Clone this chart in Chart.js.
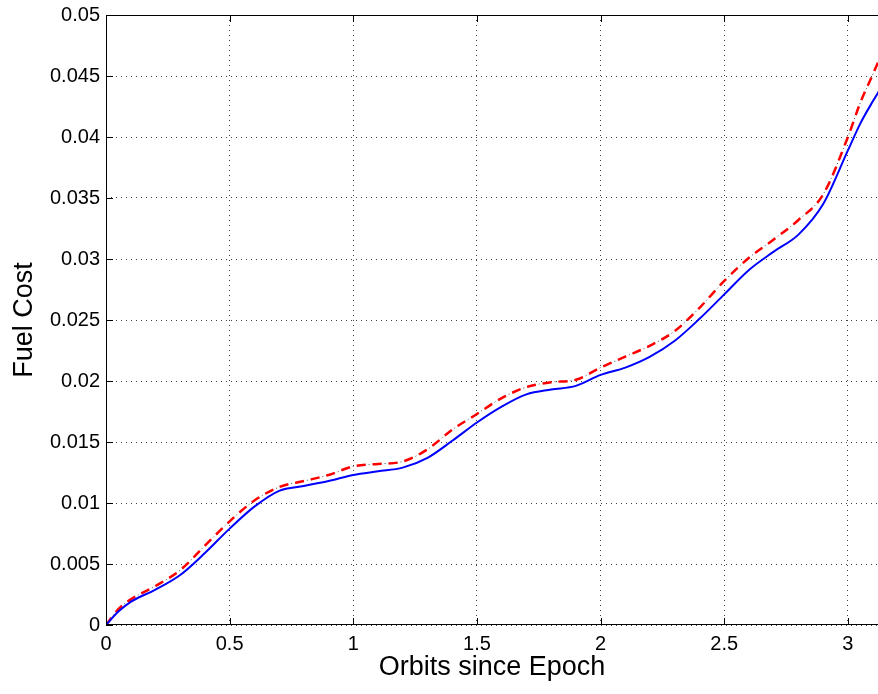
<!DOCTYPE html>
<html>
<head>
<meta charset="utf-8">
<script src="https://cdn.jsdelivr.net/npm/chart.js@4.4.1/dist/chart.umd.min.js"></script>
<style>
  html, body { margin: 0; padding: 0; background: #fff; }
  #wrap { width: 878px; height: 694px; position: relative; }
</style>
</head>
<body>
<div id="wrap"><canvas id="fuel"></canvas></div>
<script>
// orbits since epoch (sample positions)
const orbits = [0, 0.05, 0.1, 0.2, 0.3, 0.4, 0.5, 0.6, 0.7, 0.8, 0.9, 1.0, 1.1, 1.2, 1.3, 1.4, 1.5,
  1.6, 1.7, 1.8, 1.9, 2.0, 2.1, 2.2, 2.3, 2.4, 2.5, 2.6, 2.7, 2.8, 2.9, 3.0, 3.05, 3.1, 3.13];

// blue solid curve
const costBlue = [0, 0.0011, 0.0019, 0.0029, 0.0041, 0.0059, 0.0079, 0.0097, 0.0110, 0.0114, 0.0118,
  0.0123, 0.0126, 0.0129, 0.0137, 0.0151, 0.0166, 0.0179, 0.0189, 0.0193, 0.0196, 0.0205, 0.0211,
  0.0220, 0.0233, 0.0251, 0.0271, 0.0291, 0.0306, 0.0320, 0.0345, 0.0389, 0.0411, 0.0429, 0.0439];

// red dashed / black dash-dot curve (same values)
const costRed = [0, 0.0013, 0.0021, 0.0032, 0.0045, 0.0065, 0.0085, 0.0102, 0.0113, 0.0118, 0.0123,
  0.0130, 0.0132, 0.0134, 0.0144, 0.0160, 0.0173, 0.0186, 0.0195, 0.0199, 0.0201, 0.0211, 0.0220,
  0.0229, 0.0241, 0.0260, 0.0282, 0.0301, 0.0316, 0.0332, 0.0353, 0.0400, 0.0428, 0.0451, 0.0465];

const xTicks = [0, 0.5, 1, 1.5, 2, 2.5, 3];
const yTicks = [0, 0.005, 0.01, 0.015, 0.02, 0.025, 0.03, 0.035, 0.04, 0.045, 0.05];

function toPoints(ys) {
  return orbits.map((x, i) => ({ x: x, y: ys[i] }));
}

// MATLAB style box: top border and inward tick marks
const boxTicks = {
  id: "boxTicks",
  afterDatasetsDraw(chart) {
    const ctx = chart.ctx;
    const area = chart.chartArea;
    const xs = chart.scales.x;
    const ys = chart.scales.y;
    const len = 7;
    ctx.save();
    ctx.strokeStyle = "#000";
    ctx.lineWidth = 1;
    ctx.setLineDash([]);
    ctx.beginPath();
    ctx.moveTo(area.left, area.top + 0.5);
    ctx.lineTo(area.right, area.top + 0.5);
    ctx.moveTo(area.left + 0.5, area.top);
    ctx.lineTo(area.left + 0.5, area.bottom);
    ctx.moveTo(area.left, area.bottom - 0.5);
    ctx.lineTo(area.right, area.bottom - 0.5);
    for (const v of xTicks) {
      const px = Math.round(xs.getPixelForValue(v)) + 0.5;
      ctx.moveTo(px, area.bottom);
      ctx.lineTo(px, area.bottom - len);
      ctx.moveTo(px, area.top);
      ctx.lineTo(px, area.top + len);
    }
    for (const v of yTicks) {
      const py = Math.round(ys.getPixelForValue(v)) + 0.5;
      ctx.moveTo(area.left, py);
      ctx.lineTo(area.left + len, py);
    }
    ctx.stroke();
    ctx.restore();
  },
};

const font = "'Liberation Sans', Arial, Helvetica, sans-serif";

new Chart(document.getElementById("fuel"), {
  type: "line",
  data: {
    datasets: [
      {
        label: "blue",
        data: toPoints(costBlue),
        borderColor: "#0000ff",
        borderWidth: 2,
        pointRadius: 0,
        cubicInterpolationMode: "monotone",
      },
      {
        label: "red",
        data: toPoints(costRed),
        borderColor: "#ff0000",
        borderWidth: 2.5,
        borderDash: [9, 7],
        pointRadius: 0,
        cubicInterpolationMode: "monotone",
      },
      {
        label: "black",
        data: toPoints(costRed),
        borderColor: "rgba(0,0,0,0.7)",
        borderWidth: 1,
        borderDash: [9, 3, 1, 3],
        pointRadius: 0,
        cubicInterpolationMode: "monotone",
      },
    ],
  },
  options: {
    responsive: true,
    maintainAspectRatio: false,
    animation: false,
    layout: { padding: { top: 15, right: 0, left: 0, bottom: 0 } },
    plugins: {
      legend: { display: false },
      tooltip: { enabled: false },
    },
    scales: {
      x: {
        type: "linear",
        min: 0,
        max: 3.1217,
        afterBuildTicks: (scale) => {
          scale.ticks = xTicks.map((v) => ({ value: v }));
        },
        afterFit: (scale) => {
          scale.height = 69;
          scale.paddingLeft = 0;
          scale.paddingRight = 0;
        },
        ticks: {
          color: "#000",
          font: { family: font, size: 20 },
          padding: 7,
          maxRotation: 0,
          callback: (v) => String(v),
        },
        grid: {
          color: "rgba(0,0,0,0.75)",
          lineWidth: 1,
          drawTicks: false,
        },
        border: { display: false, dash: [1, 4] },
        title: {
          display: true,
          text: "Orbits since Epoch",
          color: "#000",
          font: { family: font, size: 27 },
          padding: { top: 0, bottom: 10 },
        },
      },
      y: {
        min: 0,
        max: 0.05,
        afterBuildTicks: (scale) => {
          scale.ticks = yTicks.map((v) => ({ value: v }));
        },
        afterFit: (scale) => {
          scale.width = 106;
          scale.paddingTop = 0;
          scale.paddingBottom = 0;
        },
        ticks: {
          color: "#000",
          font: { family: font, size: 20 },
          padding: 6,
          callback: (v) => String(v),
        },
        grid: {
          color: "rgba(0,0,0,0.75)",
          lineWidth: 1,
          drawTicks: false,
        },
        border: { display: false, dash: [1, 4] },
        title: {
          display: true,
          text: "Fuel Cost",
          color: "#000",
          font: { family: font, size: 27 },
          padding: { top: 8, bottom: 0 },
        },
      },
    },
  },
  plugins: [boxTicks],
});
</script>
</body>
</html>
